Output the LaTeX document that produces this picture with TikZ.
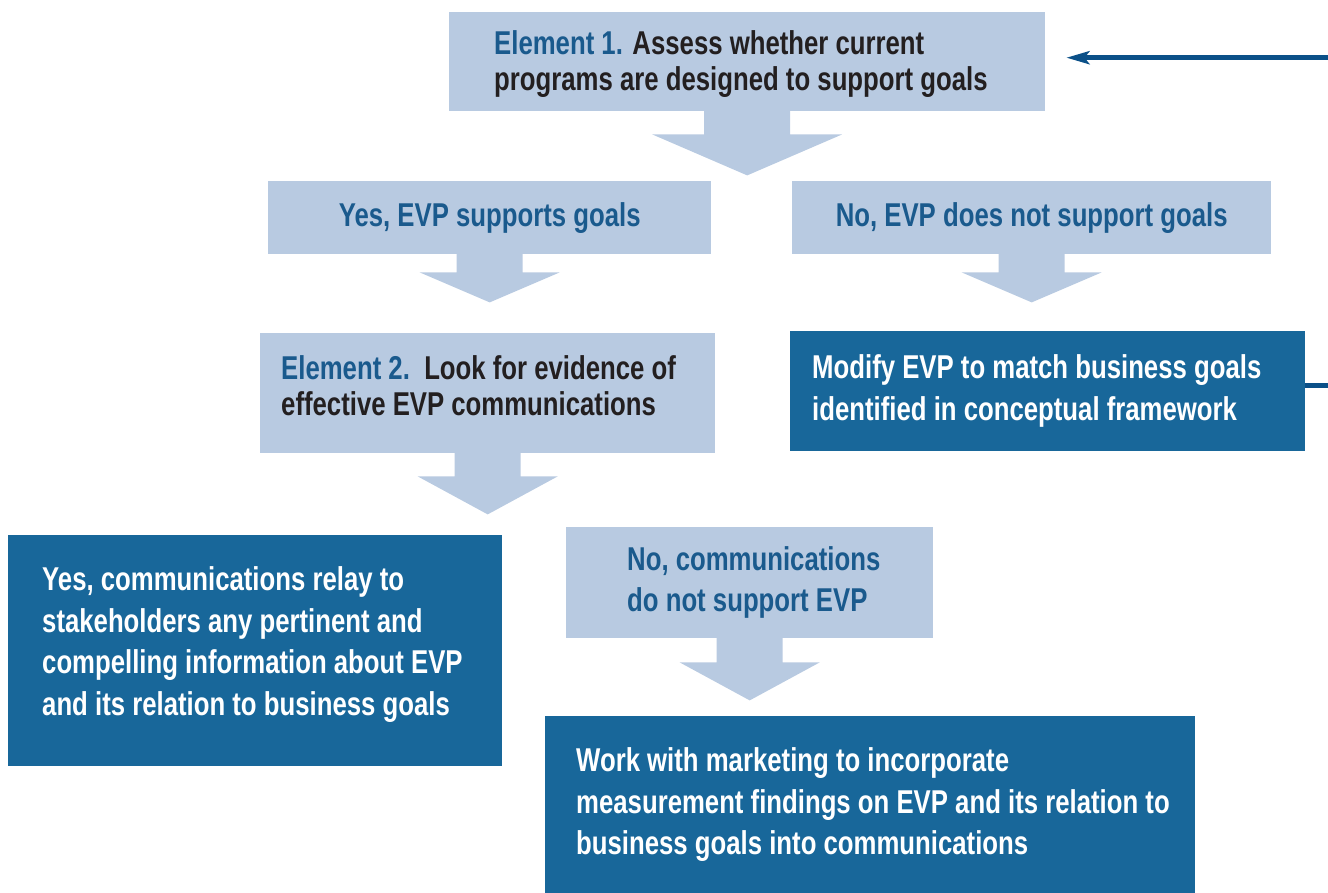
\documentclass[tikz,border=0pt]{standalone}
\usepackage{fontspec}
\setmainfont{Liberation Sans}[FakeStretch=0.78]
\usetikzlibrary{positioning,arrows.meta}

\definecolor{lblue}{HTML}{B8CAE1}
\definecolor{dblue}{HTML}{18679A}
\definecolor{tblue}{HTML}{1A5A8D}
\definecolor{lblack}{HTML}{231F20}
\definecolor{fblue}{HTML}{0B5088}

\begin{document}
\begin{tikzpicture}[x=1pt,y=-1pt]
    \tikzstyle{lbox}=[fill=lblue, inner sep=0pt, anchor=north west]
    \tikzstyle{dbox}=[fill=dblue, inner sep=0pt, anchor=north west]
    \tikzstyle{txt}=[inner sep=0pt, align=left, anchor=west, font=\fontsize{33}{41.5}\selectfont\bfseries]
    \tikzstyle{etxt}=[txt, text=lblack, font=\fontsize{33}{36}\selectfont\bfseries]
    \tikzstyle{fback}=[line width=4.5pt, fblue, -{Stealth[length=23pt,width=13pt,inset=5pt]}]

    \clip (0,0) rectangle (1328,893);

    % boxes
    \node[lbox, minimum width=596, minimum height=99] (e1) at (449,12) {};
    \node[lbox, minimum width=443, minimum height=73, text=tblue, font=\fontsize{33}{41.5}\selectfont\bfseries] (yes) at (268,181) {Yes, EVP supports goals};
    \node[lbox, minimum width=479, minimum height=73, text=tblue, font=\fontsize{33}{41.5}\selectfont\bfseries] (no) at (792,181) {No, EVP does not support goals};
    \node[lbox, minimum width=455, minimum height=120] (e2) at (260,333) {};
    \node[dbox, minimum width=515, minimum height=120] (mod) at (790,331) {};
    \node[dbox, minimum width=494, minimum height=231] (ycomm) at (8,535) {};
    \node[lbox, minimum width=367, minimum height=111] (ncomm) at (566,527) {};
    \node[dbox, minimum width=650, minimum height=177] (work) at (545,716) {};

    % texts
    \node[etxt, right=45pt of e1.west, yshift=-2pt] (e1t) {\textcolor{tblue}{Element 1.} Assess whether current\\programs are designed to support goals};
    \node[etxt, right=21pt of e2.west, yshift=7pt] (e2t) {\textcolor{tblue}{Element 2.}\ \ Look for evidence of\\effective EVP communications};
    \node[txt, text=white, right=22pt of mod.west] (modt) {Modify EVP to match business goals\\identified in conceptual framework};
    \node[txt, text=white, right=34pt of ycomm.west, yshift=6pt] (ycommt) {Yes, communications relay to\\stakeholders any pertinent and\\compelling information about EVP\\and its relation to business goals};
    \node[txt, text=tblue, right=61pt of ncomm.west] (ncommt) {No, communications\\do not support EVP};
    \node[txt, text=white, right=31pt of work.west] (workt) {Work with marketing to incorporate\\measurement findings on EVP and its relation to\\business goals into communications};

    % block arrows
    \foreach \nm/\s/\l/\h/\t in {e1/43/23/95/41, yes/33/18/70/30, no/33/18/70/30, e2/33/23/70/38, ncomm/33/24/70/38} {
        \fill[lblue] (\nm.south) ++(-\s,-1) -- ++(0,\l+1) -- ++(\s-\h,0) -- ++(\h,\t) -- ++(\h,-\t) -- ++(\s-\h,0) -- ++(0,-\l-1) -- cycle;
    }

    % back to element 1
    \draw[fback] ([yshift=5.5pt]mod.east) -- ++(60,0) |- ([xshift=21pt,yshift=4pt]e1.east);

\end{tikzpicture}
\end{document}
